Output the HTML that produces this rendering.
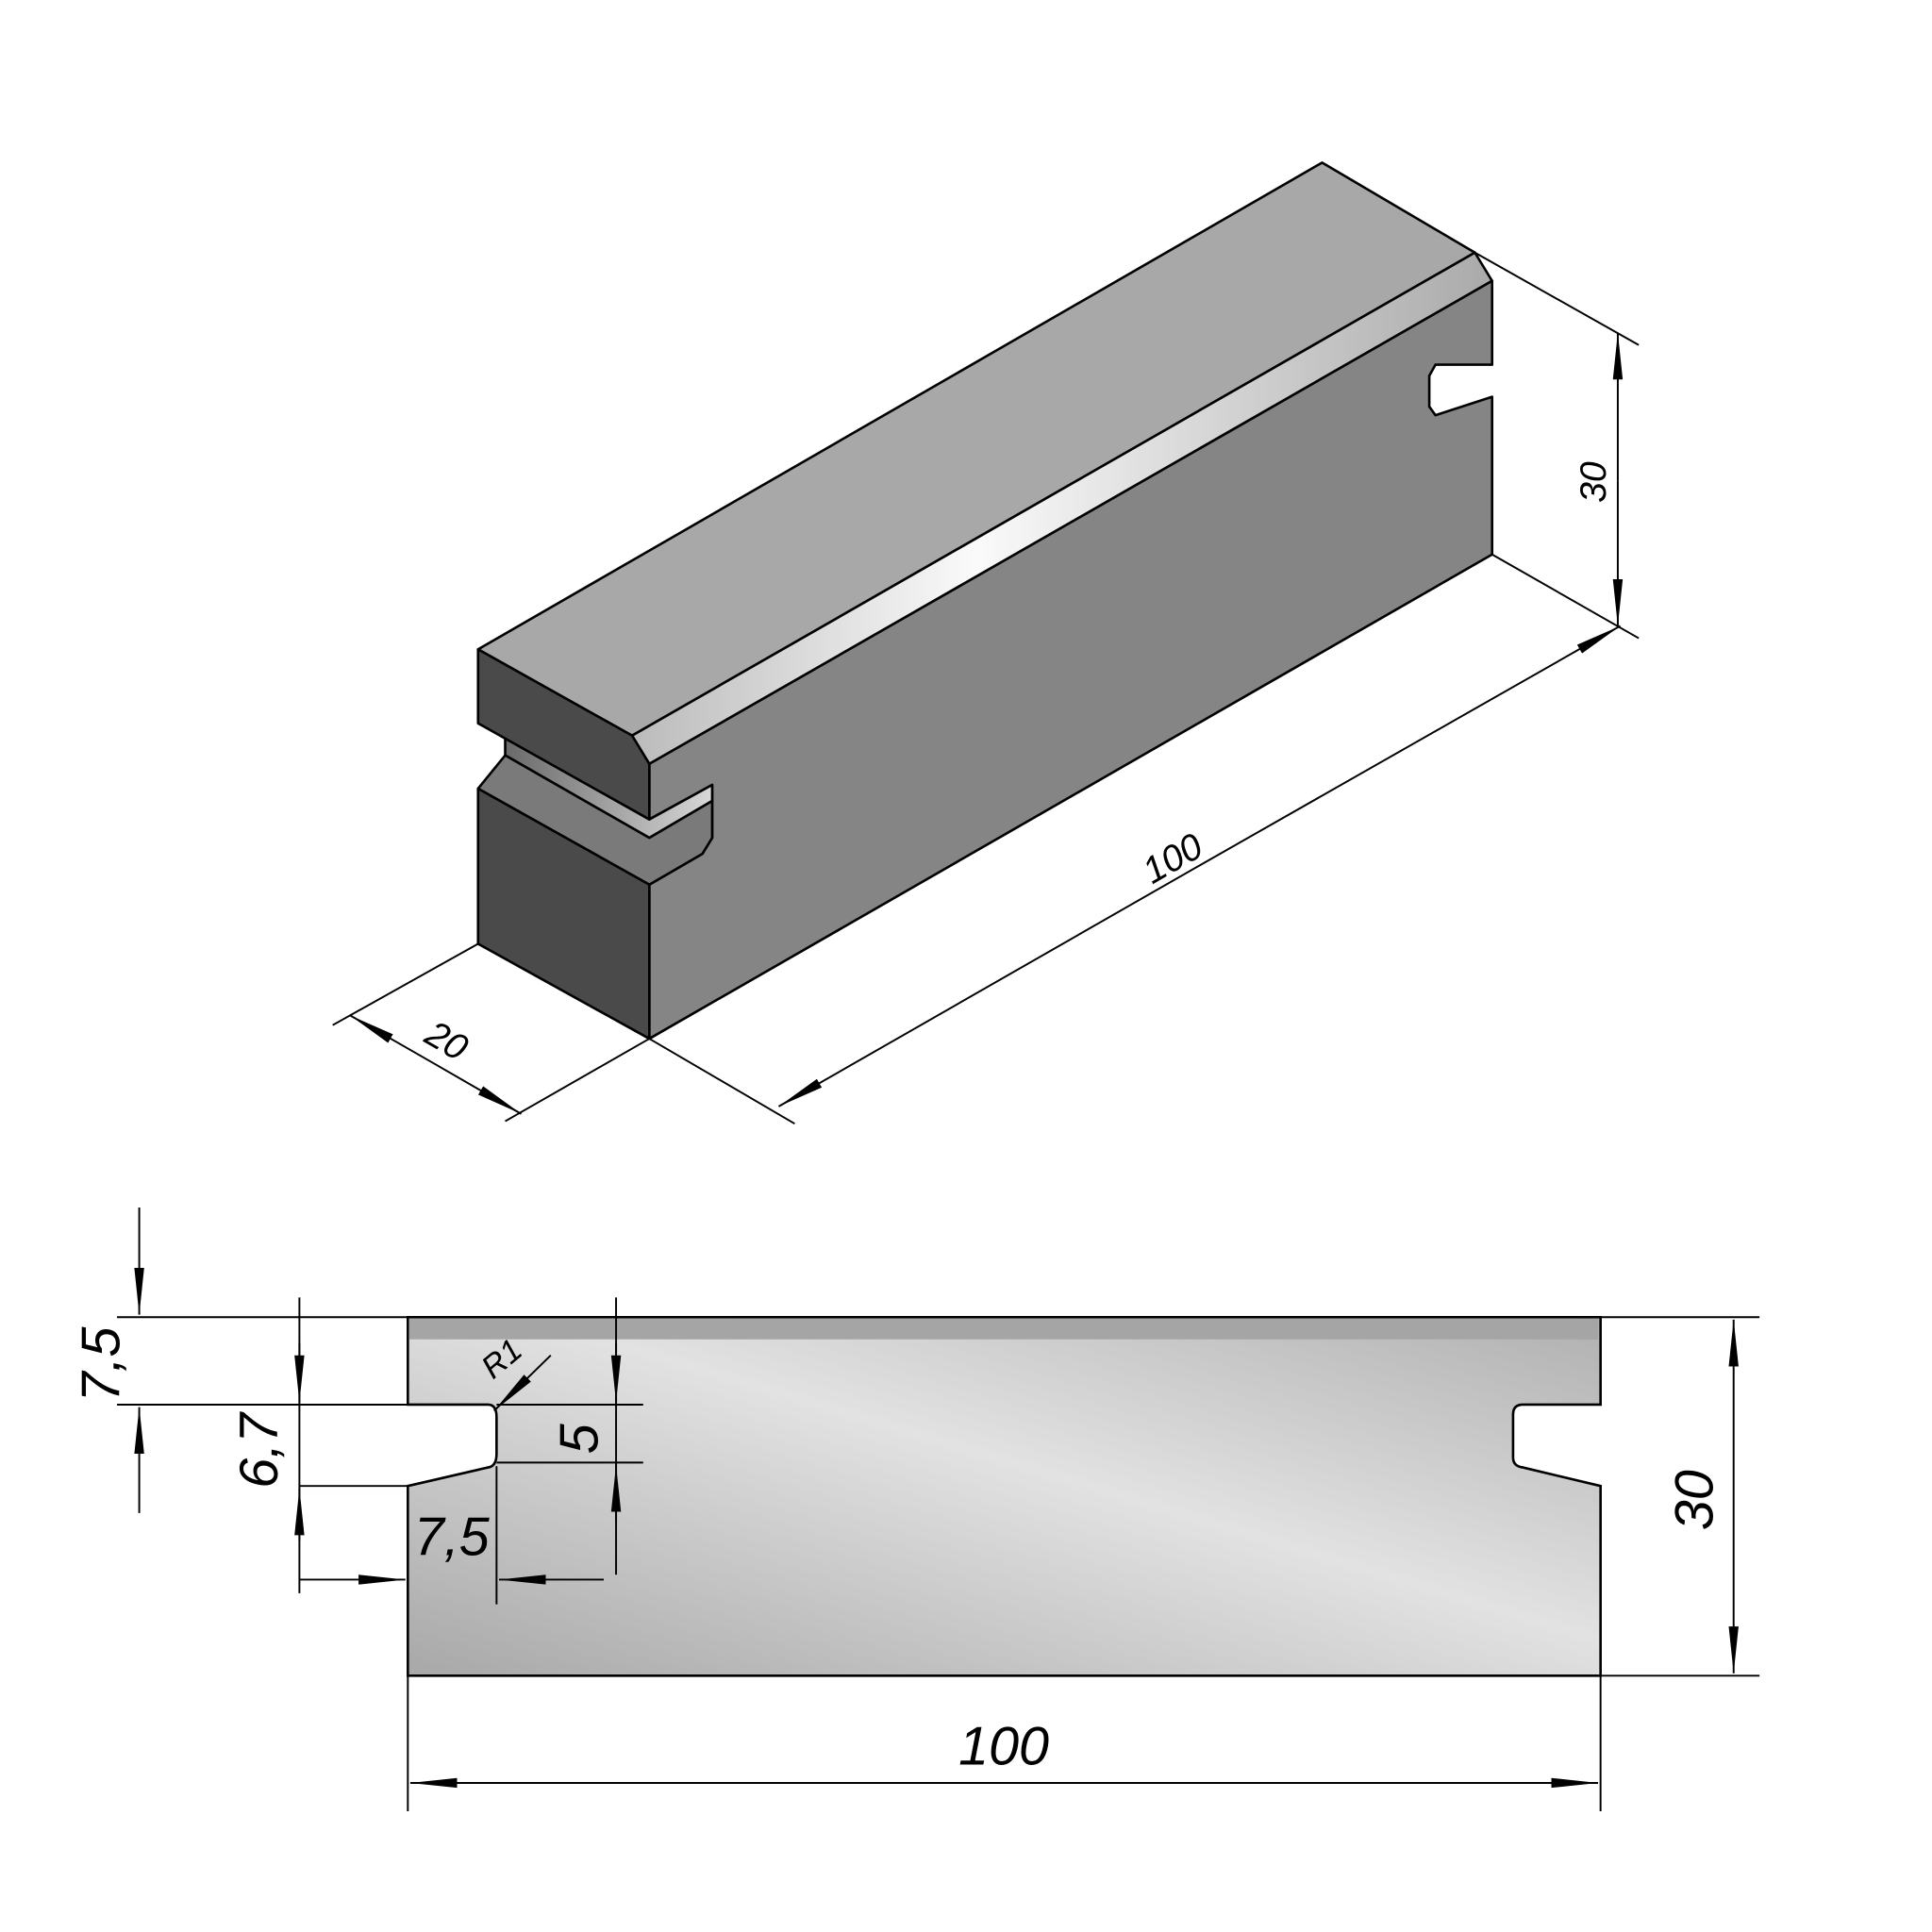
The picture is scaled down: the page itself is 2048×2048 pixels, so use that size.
<!DOCTYPE html>
<html><head><meta charset="utf-8"><style>
html,body{margin:0;padding:0;background:#fff;}
svg{display:block;}
text{font-family:"Liberation Sans",sans-serif;font-style:italic;fill:#000;}
</style></head><body>
<svg width="2048" height="2048" viewBox="0 0 1568 1568" xmlns="http://www.w3.org/2000/svg">
<defs>
<marker id="a" markerWidth="40" markerHeight="12" refX="38" refY="6" orient="auto" markerUnits="userSpaceOnUse">
<path d="M0,2 L38,6 L0,10 Z" fill="#000"/></marker>
<linearGradient id="ch" x1="0" y1="0" x2="1" y2="0">
<stop offset="0" stop-color="#bbb"/><stop offset="0.4" stop-color="#fafafa"/><stop offset="1" stop-color="#aaa"/></linearGradient>
<linearGradient id="fv" x1="0" y1="1" x2="1" y2="0">
<stop offset="0" stop-color="#a8a8a8"/><stop offset="0.55" stop-color="#e2e2e2"/><stop offset="1" stop-color="#b0b0b0"/></linearGradient>
<linearGradient id="sl" x1="0" y1="0" x2="1" y2="0">
<stop offset="0" stop-color="#6a6a6a"/><stop offset="1" stop-color="#d8d8d8"/></linearGradient>
</defs>
<g stroke="#000" stroke-width="2" stroke-linejoin="round">
<polygon points="388,527 1073,132 1197,205 513,597" fill="#a8a8a8"/>
<polygon points="513,597 1197,205 1211,228 527,620" fill="url(#ch)"/>
<polygon points="527,620 1211,228 1211,296 1165,296 1160,305 1160,330 1165,337 1211,322 1211,450 527,843 527,718 570,693 578,680 578,637 527,665" fill="#858585"/>
<polygon points="410,599 527,665 578,637 578,650 527,680 410,613" fill="url(#sl)"/>
<polygon points="388,527 513,597 527,620 527,665 388,587" fill="#4a4a4a"/>
<polygon points="388,640 410,613 527,680 578,650 578,680 570,693 527,718" fill="#7a7a7a"/>
<polygon points="388,640 527,718 527,843 388,766" fill="#4a4a4a"/>
</g>
<g stroke="#000" stroke-width="1.5" fill="none">
<line x1="1197" y1="205" x2="1330" y2="280"/>
<line x1="1211" y1="450" x2="1330" y2="518"/>
<line x1="1313" y1="390" x2="1313" y2="270" marker-end="url(#a)"/>
<line x1="1313" y1="390" x2="1313" y2="508" marker-end="url(#a)"/>
<line x1="527" y1="843" x2="645" y2="912"/>
<line x1="976" y1="701" x2="632" y2="898" marker-end="url(#a)"/>
<line x1="976" y1="701" x2="1315" y2="508" marker-end="url(#a)"/>
<line x1="388" y1="766" x2="270" y2="832"/>
<line x1="527" y1="843" x2="410" y2="910"/>
<line x1="352" y1="863" x2="284" y2="824" marker-end="url(#a)"/>
<line x1="352" y1="863" x2="423" y2="904" marker-end="url(#a)"/>
</g>
<text font-size="30" transform="translate(1303,408) rotate(-90)">30</text>
<text font-size="30" transform="translate(935,718) rotate(-30)">100</text>
<text font-size="30" transform="translate(343,845) rotate(30)">20</text>

<path d="M331,1069 H1299 V1140 H1236 Q1228,1140 1228,1148 V1183 Q1228,1190 1236,1191 L1299,1206 V1360 H331 V1206 L396,1191 Q403,1190 403,1180 V1150 Q403,1140 396,1140 H331 Z" fill="url(#fv)" stroke="#000" stroke-width="2"/>
<rect x="332" y="1070" width="965" height="17" fill="#a5a5a5"/>
<g stroke="#000" stroke-width="1.5" fill="none">
<line x1="95" y1="1069" x2="331" y2="1069"/>
<line x1="95" y1="1140" x2="331" y2="1140"/>
<line x1="113" y1="980" x2="113" y2="1067" marker-end="url(#a)"/>
<line x1="113" y1="1228" x2="113" y2="1142" marker-end="url(#a)"/>
<line x1="243" y1="1053" x2="243" y2="1293"/>
<line x1="243" y1="1206" x2="331" y2="1206"/>
<line x1="243" y1="1090" x2="243" y2="1138" marker-end="url(#a)"/>
<line x1="243" y1="1250" x2="243" y2="1208" marker-end="url(#a)"/>
<line x1="500" y1="1053" x2="500" y2="1278"/>
<line x1="403" y1="1140" x2="522" y2="1140"/>
<line x1="403" y1="1187" x2="522" y2="1187"/>
<line x1="500" y1="1090" x2="500" y2="1138" marker-end="url(#a)"/>
<line x1="500" y1="1235" x2="500" y2="1189" marker-end="url(#a)"/>
<line x1="403" y1="1190" x2="403" y2="1302"/>
<line x1="243" y1="1282" x2="329" y2="1282" marker-end="url(#a)"/>
<line x1="490" y1="1282" x2="405" y2="1282" marker-end="url(#a)"/>
<line x1="447" y1="1100" x2="401" y2="1145" marker-end="url(#a)"/>
<line x1="1299" y1="1069" x2="1428" y2="1069"/>
<line x1="1299" y1="1360" x2="1428" y2="1360"/>
<line x1="1407" y1="1215" x2="1407" y2="1071" marker-end="url(#a)"/>
<line x1="1407" y1="1215" x2="1407" y2="1358" marker-end="url(#a)"/>
<line x1="331" y1="1360" x2="331" y2="1470"/>
<line x1="1299" y1="1360" x2="1299" y2="1470"/>
<line x1="815" y1="1447" x2="333" y2="1447" marker-end="url(#a)"/>
<line x1="815" y1="1447" x2="1297" y2="1447" marker-end="url(#a)"/>
</g>
<text font-size="44" transform="translate(97,1138) rotate(-90)">7,5</text>
<text font-size="44" transform="translate(225,1208) rotate(-90)">6,7</text>
<text font-size="44" transform="translate(485,1180) rotate(-90)">5</text>
<text font-size="44" transform="translate(1390,1242) rotate(-90)">30</text>
<text font-size="44" x="336" y="1262">7,5</text>
<text font-size="44" x="778" y="1432">100</text>
<text font-size="26" transform="translate(400,1120) rotate(-40)">R1</text>
</svg>
</body></html>
